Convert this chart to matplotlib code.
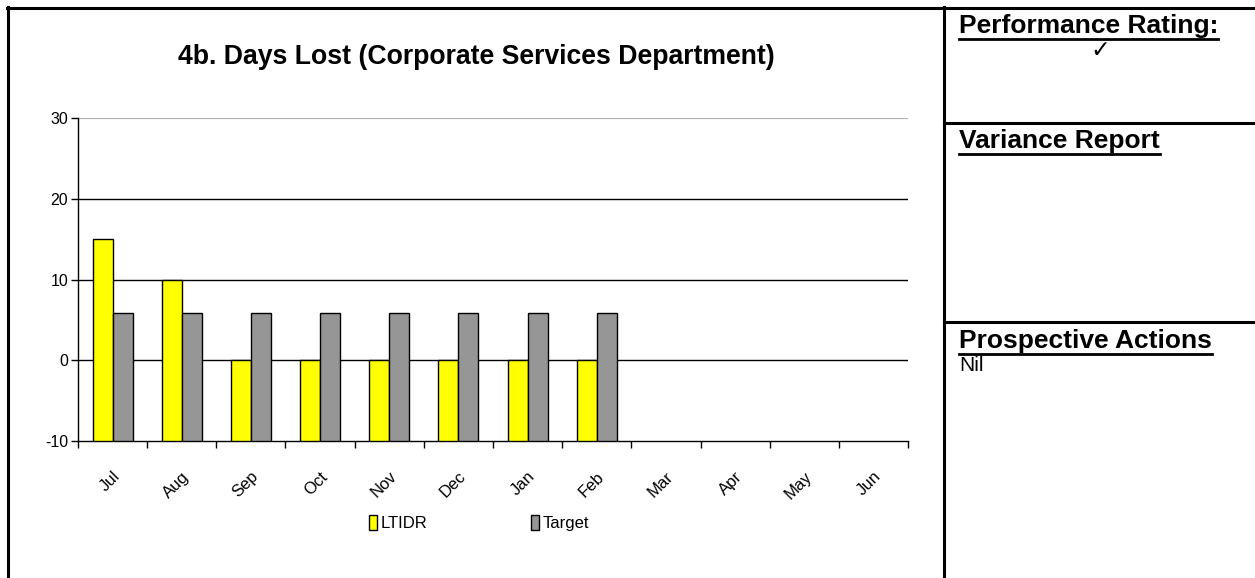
import matplotlib
matplotlib.use("Agg")
import matplotlib.pyplot as plt
from matplotlib.lines import Line2D
import numpy as np

plt.rcParams["font.family"] = ["Liberation Sans", "DejaVu Sans"]

months = ["Jul", "Aug", "Sep", "Oct", "Nov", "Dec", "Jan", "Feb", "Mar", "Apr", "May", "Jun"]
ltidr = [15, 10, 0, 0, 0, 0, 0, 0]
target = [5.8, 5.8, 5.8, 5.8, 5.8, 5.8, 5.8, 5.8]
y_ticks = [-10, 0, 10, 20, 30]

W, H = 1255, 578
fig = plt.figure(figsize=(W / 100, H / 100), dpi=100)


def fx(px):
    return px / W


def fy(py):
    return 1 - py / H


def hline(x0, x1, y, lw=2.2):
    fig.add_artist(Line2D([fx(x0), fx(x1)], [fy(y), fy(y)], color="black", lw=lw,
                          transform=fig.transFigure))


def vline(x, y0, y1, lw=2.2):
    fig.add_artist(Line2D([fx(x), fx(x)], [fy(y0), fy(y1)], color="black", lw=lw,
                          transform=fig.transFigure))


# page frame and right-hand panel dividers
hline(7, W, 7.5)
vline(7.5, 7, H)
vline(944, 7, H)
hline(944, W, 123)
hline(944, W, 322)

ax = fig.add_axes([fx(78), fy(441), fx(908) - fx(78), fy(118) - fy(441)])
base = y_ticks[0]
x = np.arange(len(months))
w = 0.29
n = len(ltidr)
ax.bar(x[:n] - w / 2, np.array(ltidr) - base, w, bottom=base, color="#FFFF00",
       edgecolor="black", lw=1, label="LTIDR", zorder=3)
ax.bar(x[:n] + w / 2, np.array(target) - base, w, bottom=base, color="#969696",
       edgecolor="black", lw=1, label="Target", zorder=3)

ax.set_xlim(-0.5, len(months) - 0.5)
ax.set_ylim(-10, 30)
ax.set_yticks(y_ticks)
ax.set_yticklabels([str(v) for v in y_ticks], fontsize=11.5)
for v in y_ticks[1:-1]:
    ax.axhline(v, color="black", lw=1, zorder=1)
ax.axhline(30, color="#b0b0b0", lw=1.6, zorder=1)

ax.set_xticks(x)
ax.set_xticklabels(months, rotation=45, ha="right", rotation_mode="anchor", fontsize=12)
ax.tick_params(axis="x", which="major", length=0, pad=20)
ax.set_xticks(np.arange(len(months) + 1) - 0.5, minor=True)
ax.tick_params(axis="x", which="minor", length=5, width=1, direction="out")
ax.tick_params(axis="y", length=5, width=1, direction="out", pad=2)
for s in ("top", "right"):
    ax.spines[s].set_visible(False)
for s in ("left", "bottom"):
    ax.spines[s].set_linewidth(1)

ax.legend(loc="center", bbox_to_anchor=(fx(479), fy(523)), bbox_transform=fig.transFigure,
          ncol=2, frameon=False, fontsize=12, handlelength=0.5, handleheight=1.0,
          handletextpad=0.2, columnspacing=6.2)

fig.text(fx(476), fy(57), "4b. Days Lost (Corporate Services Department)",
         ha="center", va="center", fontsize=19.2, fontweight="bold")

# right-hand commentary panel
heads = [("Performance Rating:", 33), ("Variance Report", 148), ("Prospective Actions", 348)]
head_texts = []
for label, py in heads:
    t = fig.text(fx(959), fy(py), label, ha="left", va="baseline", fontsize=19,
                 fontweight="bold")
    head_texts.append(t)
fig.text(fx(1100), fy(50), "\u2713", ha="center", va="center", fontsize=17,
         family=["DejaVu Sans"])
fig.text(fx(959), fy(371), "Nil", ha="left", va="baseline", fontsize=15)

fig.canvas.draw()
r = fig.canvas.get_renderer()
for (label, py), t in zip(heads, head_texts):
    bb = t.get_window_extent(r)
    yb = fy(py + 6)
    fig.add_artist(Line2D([bb.x0 / W, bb.x1 / W], [yb, yb], color="black", lw=2,
                          transform=fig.transFigure))

fig.savefig("out.png", dpi=100)
